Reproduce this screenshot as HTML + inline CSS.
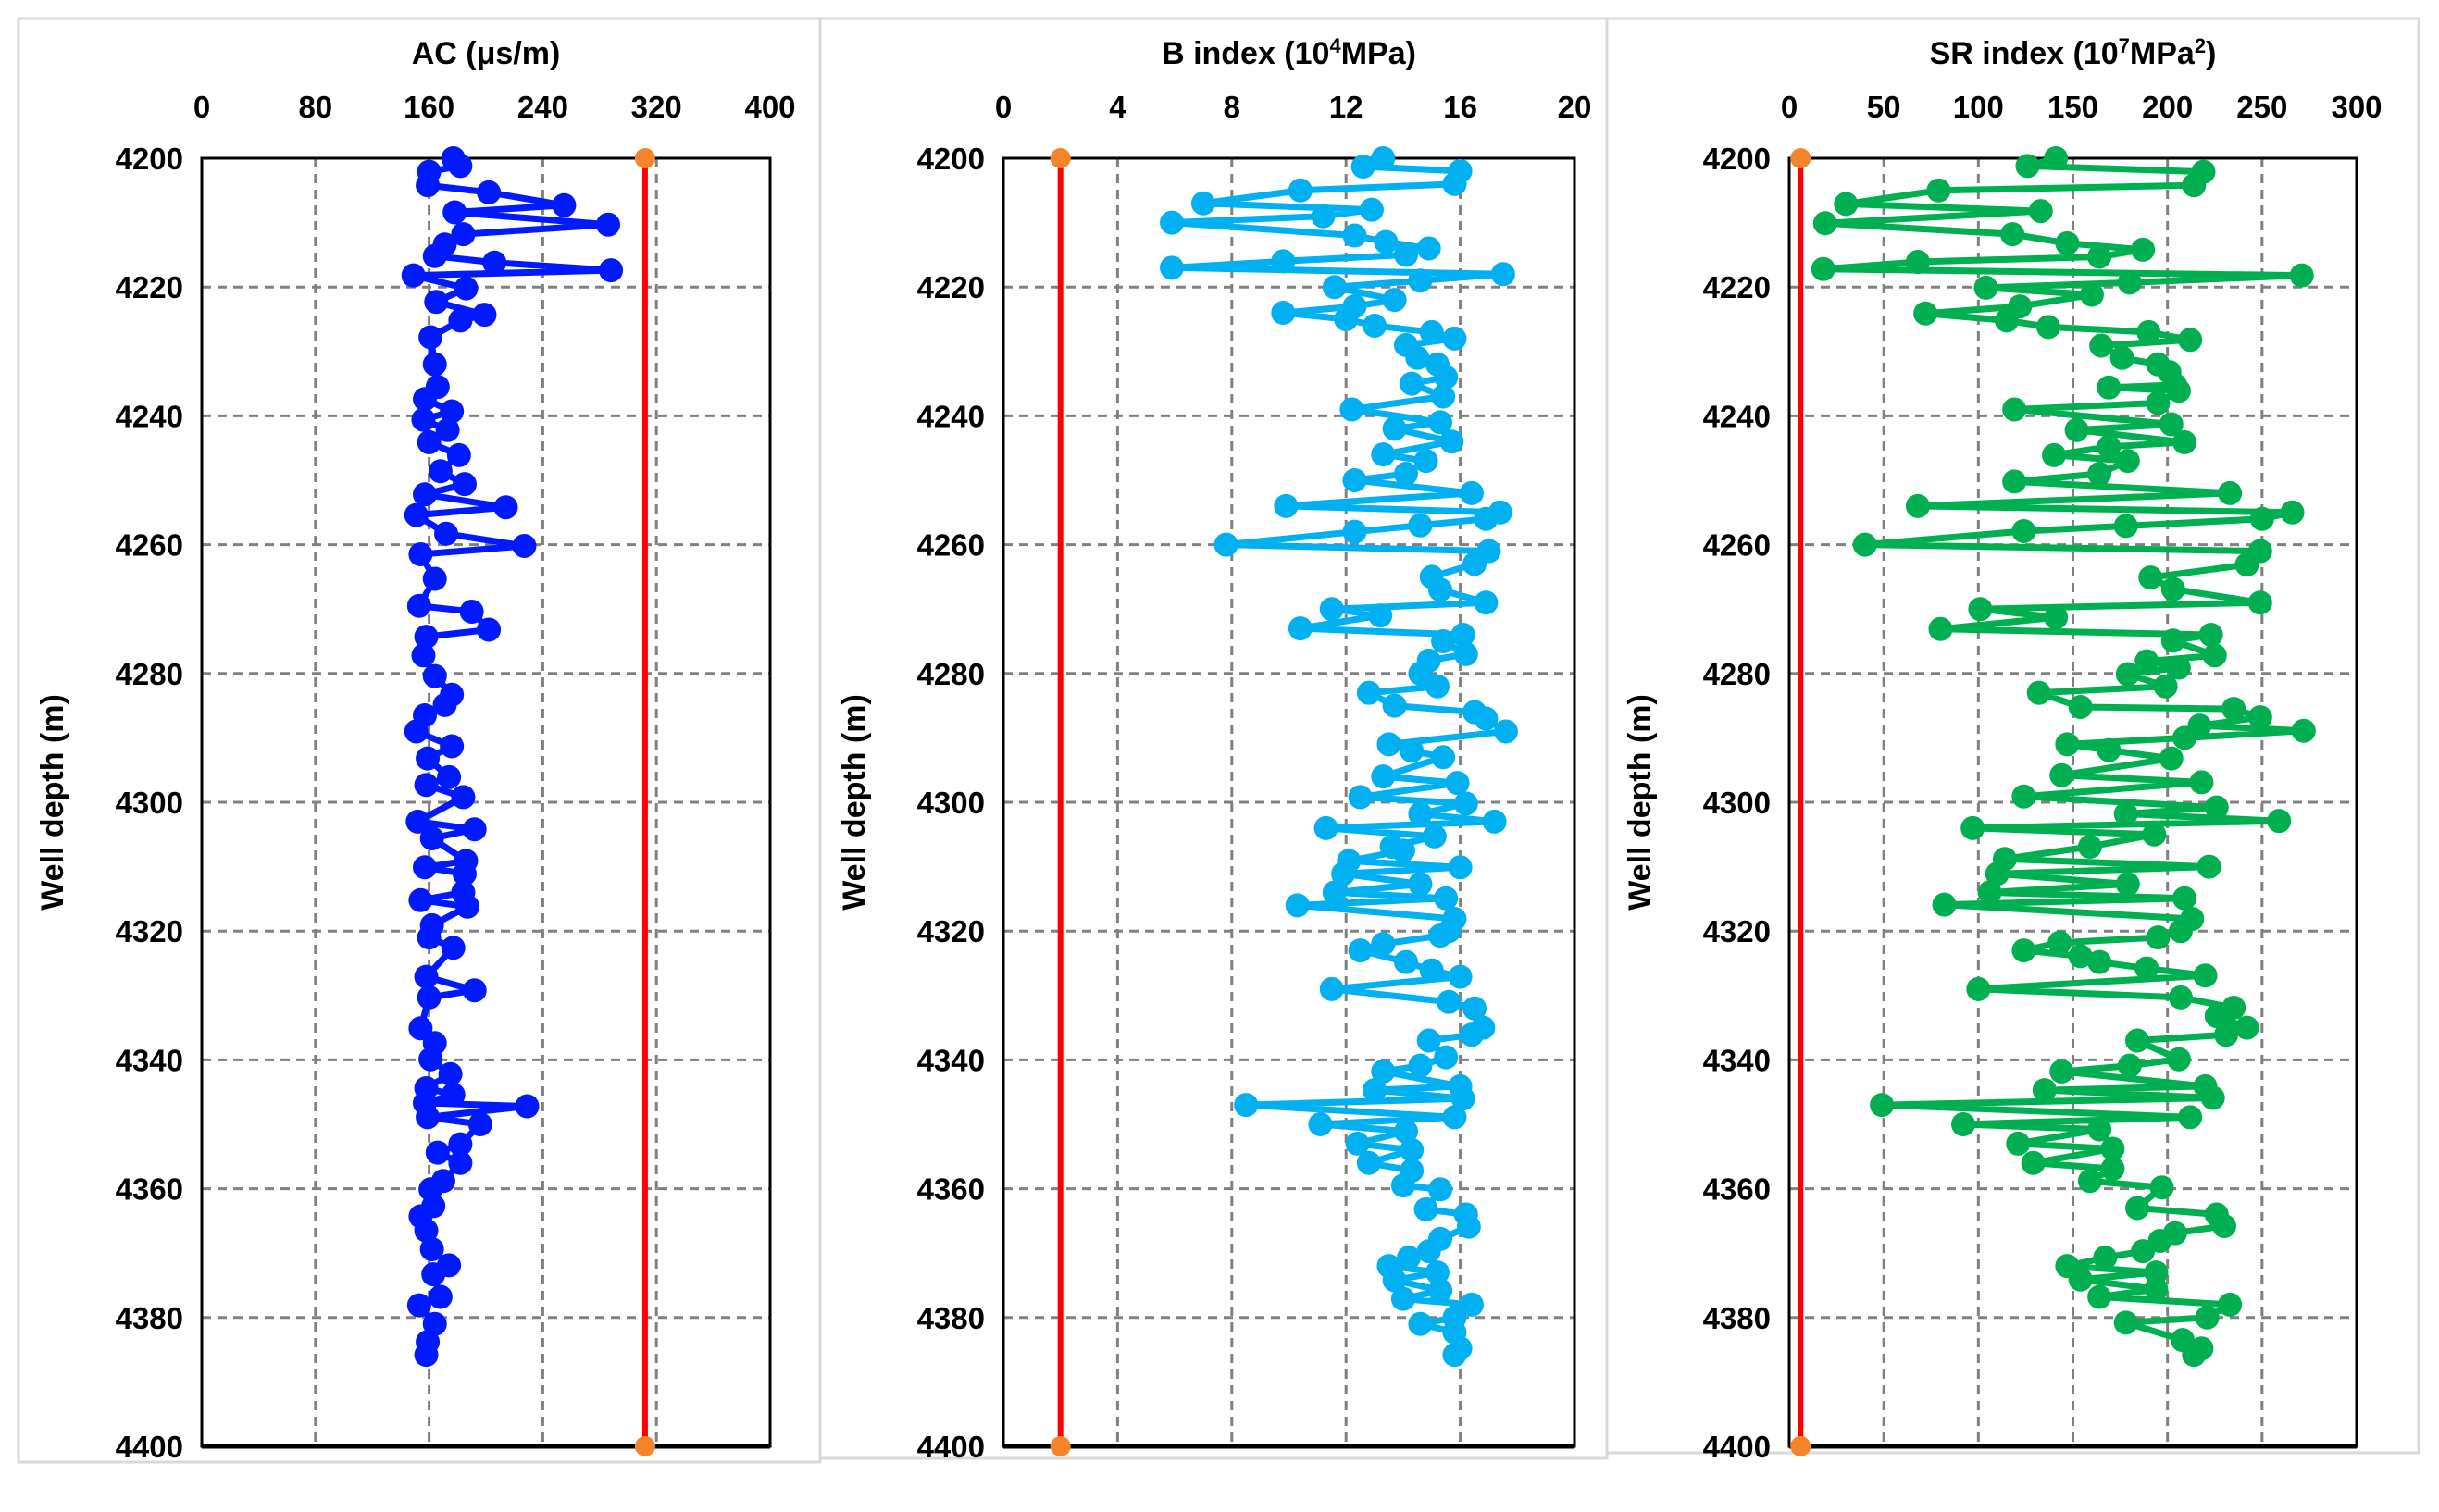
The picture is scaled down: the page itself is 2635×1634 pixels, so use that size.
<!DOCTYPE html>
<html><head><meta charset="utf-8">
<style>
html,body{margin:0;padding:0;background:#fff;}
svg{display:block;font-family:"Liberation Sans",Arial,sans-serif;font-weight:bold;}
</style></head>
<body>
<svg id="chart" width="2635" height="1634" viewBox="0 0 2635 1634"></svg>
<script>
// ---- AC series ----
const acDepths = [4200,4201.2,4202.1,4204.2,4205.3,4207.3,4208.4,4210.3,4211.8,4213.4,4215.2,4216.2,4217.4,4218.2,4220.2,4222.3,4224.3,4225.2,4227.8,4232,4235.5,4237.4,4239.3,4240.6,4242.2,4244.1,4246.1,4248.6,4250.6,4252.2,4254.2,4255.4,4258.3,4260.2,4261.5,4265.3,4269.5,4270.4,4273.2,4274.3,4277.2,4280.4,4283.3,4284.9,4286.5,4289,4291.3,4293.2,4296.1,4297.3,4299.2,4303,4304.2,4305.6,4309.1,4310.1,4311.1,4314,4315.2,4316.2,4319.1,4321,4322.6,4327.1,4329.2,4330.3,4335.1,4337.4,4339.9,4342.2,4344.4,4345.4,4346.7,4347.2,4348.9,4350,4353.1,4354.4,4356,4358.8,4360.1,4362.7,4364.3,4366.5,4369.4,4371.9,4373.3,4376.8,4378.1,4381,4383.8,4385.8];
const acValues = [177,182,160,159,202,255,178,286,184,171,164,206,288,149,186,165,199,182,161,164,166,157,176,156,173,160,181,168,185,157,214,151,172,227,154,164,153,190,202,158,156,164,176,171,157,151,176,159,174,158,184,152,192,162,186,157,185,184,154,187,162,160,177,158,192,160,154,164,161,175,158,177,157,229,159,196,182,166,182,170,161,163,154,158,162,174,163,168,153,164,159,158];
// ---- B index series ----
const bDepths = [4200,4201.3,4202,4204,4205,4207,4208,4209,4210,4212,4213,4214,4215,4216,4217,4218,4219,4220,4222,4223,4224,4225,4226,4227,4228,4229,4231,4232,4234,4235,4237,4239,4241,4242,4244,4246,4247,4249,4250,4252,4254,4255,4256,4257,4258,4260,4261,4263,4265,4267,4269,4270,4271,4273,4274,4275,4277,4278,4280,4282,4283,4285,4286,4287,4289,4291,4292,4293,4296,4297,4299.2,4300.2,4301.8,4303,4304,4305.3,4306.9,4307.5,4309.1,4310.1,4311.1,4312.7,4314,4314.9,4316,4318.1,4320,4320.7,4322,4323,4324.8,4326.1,4327.1,4329,4331,4332,4335,4336.1,4337,4339.6,4340.9,4341.8,4344.1,4344.7,4346,4347,4348.9,4350,4351.1,4353,4354,4356,4357.2,4359.5,4360.1,4363.2,4364,4365.9,4367.8,4369.7,4370.7,4372,4373,4374.2,4375.8,4377.1,4378,4380,4381,4382.3,4384.8,4385.8];
const bValues = [13.3,12.6,16.0,15.8,10.4,7.0,12.9,11.2,5.9,12.3,13.4,14.9,14.1,9.8,5.9,17.5,14.6,11.6,13.7,12.3,9.8,12.0,13.0,15.0,15.8,14.1,14.5,15.2,15.5,14.3,15.4,12.2,15.3,13.7,15.7,13.3,14.8,14.1,12.3,16.4,9.9,17.4,16.9,14.6,12.3,7.8,17.0,16.5,15.0,15.3,16.9,11.5,13.2,10.4,16.1,15.4,16.2,14.9,14.6,15.2,12.8,13.7,16.5,16.9,17.6,13.5,14.3,15.4,13.3,15.9,12.5,16.2,14.6,17.2,11.3,15.1,13.6,14.0,12.1,16.0,11.9,14.6,11.6,15.5,10.3,15.8,15.6,15.3,13.3,12.5,14.1,15.0,16.0,11.5,15.6,16.5,16.8,16.4,14.9,15.5,14.6,13.3,16.0,13.0,16.1,8.5,15.8,11.1,14.1,12.4,14.3,12.8,14.3,14.0,15.3,14.8,16.2,16.3,15.3,14.9,14.2,13.5,15.2,13.7,15.3,14.0,16.4,15.8,14.6,15.8,16.0,15.8];
// ---- SR index series ----
const srDepths = [4200,4201.2,4202.1,4204.2,4205,4207.1,4208.2,4210.1,4211.8,4213.2,4214.2,4215.3,4216.1,4217.2,4218.2,4219.3,4220.1,4221.2,4223,4224.1,4225.2,4226.2,4227,4228.2,4229.1,4231,4232,4233.2,4235.2,4235.6,4236.1,4238,4239,4241.3,4242.2,4244.1,4244.8,4246.1,4247,4249,4250.2,4252,4254,4255,4256,4257.1,4257.9,4260,4261,4263.1,4265.1,4266.9,4269,4270,4271.3,4273.1,4274,4274.9,4277.2,4278.1,4279.1,4280.1,4282,4283,4285.2,4285.5,4286.8,4288.1,4288.9,4290,4291,4291.9,4293.2,4295.8,4296.9,4299.1,4300.8,4301.8,4302.9,4304,4305,4306.9,4308.8,4310,4311.1,4312.7,4314,4314.9,4315.9,4318.1,4320,4321,4321.8,4323,4323.9,4324.8,4325.8,4326.9,4329,4330.3,4331.9,4333.2,4335,4336.1,4337,4339.9,4340.9,4341.8,4344.1,4344.7,4345.9,4347,4348.9,4350,4350.8,4353,4353.8,4356,4356.9,4358.8,4359.8,4363,4364,4365.8,4366.9,4368.1,4369.7,4370.7,4372,4373,4374.1,4375.6,4376.8,4378,4380,4380.8,4383.5,4384.8,4385.8];
const srValues = [141,126,219,214,79,30,133,19,118,147,187,164,68,18,271,180,104,160,122,72,115,137,190,212,165,176,195,201,204,169,206,195,119,202,152,209,169,140,179,164,119,233,68,266,250,178,124,40,249,242,191,203,249,101,141,80,223,203,225,189,206,179,199,132,154,235,249,217,272,209,147,169,202,144,218,124,226,178,259,97,193,159,114,222,110,179,106,209,82,213,207,195,143,124,154,164,189,220,100,207,235,226,242,231,184,206,180,144,220,135,224,49,212,92,164,121,171,129,171,159,197,184,226,230,204,196,187,167,147,194,154,194,164,233,221,178,208,218,214];

const acTicks = [0,80,160,240,320,400];
const bTicks = [0,4,8,12,16,20];
const srTicks = [0,50,100,150,200,250,300];
const depthTicks = [4200,4220,4240,4260,4280,4300,4320,4340,4360,4380,4400];
const acLimit = [312];
const bLimit = [2];
const srLimit = [6];

const NS = "http://www.w3.org/2000/svg";
const svg = document.getElementById("chart");
function mk(tag, attrs, parent){
  const e = document.createElementNS(NS, tag);
  for (const k in attrs) e.setAttribute(k, attrs[k]);
  (parent||svg).appendChild(e);
  return e;
}

function panel(cfg){
  const g = mk("g", {});
  
  
  const fr = mk("rect", {x:cfg.fx, y:20, width:cfg.fw, height:cfg.fh, fill:"none", stroke:"#d9d9d9", "stroke-width":3}, g);
  
  
  const L = cfg.x0, R = cfg.x1, T = 171, B = 1563;
  const xmax = cfg.ticks[cfg.ticks.length-1];
  const xs = v => L + (R-L)*v/xmax;
  const ys = d => T + (B-T)*(d-4200)/200;
  cfg.ticks.forEach((t,i)=>{
    if(i>0 && i<cfg.ticks.length-1){
      const l = mk("line",{x1:xs(t),x2:xs(t),y1:T,y2:B,stroke:"#808080","stroke-width":3,"stroke-dasharray":"10,7"},g);
      
      
    }
    const tx = mk("text",{x:xs(t),y:127,"font-size":33,"text-anchor":"middle",fill:"#000"},g);
    tx.textContent = t;
    
    
  });
  depthTicks.forEach((d,i)=>{
    if(i>0 && i<depthTicks.length-1){
      const l = mk("line",{x1:L,x2:R,y1:ys(d),y2:ys(d),stroke:"#808080","stroke-width":3,"stroke-dasharray":"10,7"},g);
      
      
    }
    const tx = mk("text",{x:L-20,y:ys(d)+12,"font-size":33,"text-anchor":"end",fill:"#000"},g);
    tx.textContent = d;
    
    
  });
  const box = mk("rect",{x:L,y:T,width:R-L,height:B-T,fill:"none",stroke:"#000","stroke-width":3},g);
  
  
  const bl = mk("line",{x1:L,x2:R,y1:B,y2:B,stroke:"#000","stroke-width":5},g);
  
  
  const tt = mk("text",{x:(L+R)/2,y:69,"font-size":34,"text-anchor":"middle",fill:"#000"},g);
  tt.innerHTML = cfg.title;
  
  
  const yl = mk("text",{x:0,y:0,"font-size":34,"text-anchor":"middle",fill:"#000",transform:`translate(${L-150},${(T+B)/2}) rotate(-90)`},g);
  yl.textContent = "Well depth  (m)";
  yl.setAttribute('xml:space', 'preserve');
  
  
  const pts = cfg.values.map((v,i)=>[xs(v), ys(cfg.depths[i])]);
  const pl = mk("polyline",{points:pts.map(p=>p.join(",")).join(" "),fill:"none",stroke:cfg.color,"stroke-width":7,"stroke-linejoin":"round"},g);
  
  
  pts.forEach(p=>{
    const c = mk("circle",{cx:p[0],cy:p[1],r:13,fill:cfg.color},g);
    
    
  });
  cfg.limit.forEach(v=>{
    const ll = mk("line",{x1:xs(v),x2:xs(v),y1:T,y2:B,stroke:"#ff0000","stroke-width":6},g);
    
    
    [T,B].forEach(y=>{
      const c = mk("circle",{cx:xs(v),cy:y,r:11,fill:"#f6842a"},g);
      
      
    });
  });
}

panel({name:"ac", fx:20, fw:866, fh:1560, x0:218, x1:832, ticks:acTicks, depths:acDepths, values:acValues, color:"#0019ff", limit:acLimit, title:"AC (μs/m)"});
panel({name:"b-index", fx:886, fw:850, fh:1556, x0:1084, x1:1701, ticks:bTicks, depths:bDepths, values:bValues, color:"#00b0f0", limit:bLimit, title:"B index (10<tspan dy='-12' font-size='22'>4</tspan><tspan dy='12'>MPa)</tspan>"});
panel({name:"sr-index", fx:1736, fw:877, fh:1550, x0:1933, x1:2546, ticks:srTicks, depths:srDepths, values:srValues, color:"#00b050", limit:srLimit, title:"SR index (10<tspan dy='-12' font-size='22'>7</tspan><tspan dy='12'>MPa</tspan><tspan dy='-12' font-size='22'>2</tspan><tspan dy='12'>)</tspan>"});
</script>
</body></html>
